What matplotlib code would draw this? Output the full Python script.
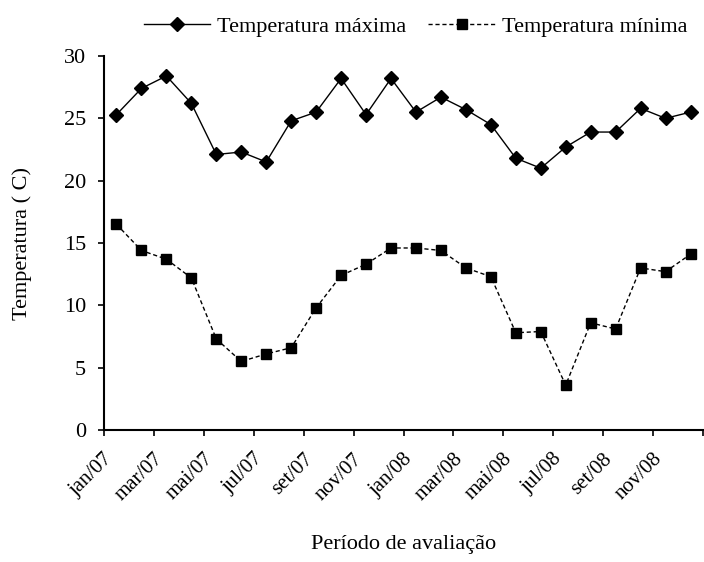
import matplotlib.pyplot as plt
import numpy as np

plt.rcParams['font.family'] = ['Liberation Serif', 'DejaVu Serif']

meses = ['jan/07', 'fev/07', 'mar/07', 'abr/07', 'mai/07', 'jun/07',
         'jul/07', 'ago/07', 'set/07', 'out/07', 'nov/07', 'dez/07',
         'jan/08', 'fev/08', 'mar/08', 'abr/08', 'mai/08', 'jun/08',
         'jul/08', 'ago/08', 'set/08', 'out/08', 'nov/08', 'dez/08']
t_max = [25.3, 27.4, 28.4, 26.2, 22.1, 22.3, 21.5, 24.8, 25.5, 28.2, 25.3, 28.2,
         25.5, 26.7, 25.7, 24.5, 21.8, 21.0, 22.7, 23.9, 23.9, 25.8, 25.0, 25.5]
t_min = [16.5, 14.4, 13.7, 12.2, 7.3, 5.5, 6.1, 6.6, 9.8, 12.4, 13.3, 14.6,
         14.6, 14.4, 13.0, 12.3, 7.8, 7.9, 3.6, 8.6, 8.1, 13.0, 12.7, 14.1]

x = np.arange(len(meses))

fig = plt.figure(figsize=(7.04, 5.62), dpi=100)
ax = fig.add_axes([104/704, 1 - 430/562, 599/704, 374/562])

ax.plot(x, t_max, color='black', lw=1.0, marker='D', markersize=7,
        label='Temperatura máxima')
ax.plot(x, t_min, color='black', lw=1.0, ls=(0, (3, 2)), marker='s', markersize=7,
        label='Temperatura mínima')

ax.set_xlim(-0.5, len(meses) - 0.5)
ax.set_ylim(0, 30)
ax.set_yticks(np.arange(0, 31, 5))

# ticks between pairs of months, labels every other month
ax.set_xticks(np.arange(-0.5, len(meses), 2))
ax.set_xticklabels([])
ax.set_xticks(x[::2] - 0.25, minor=True)
ax.set_xticklabels(meses[::2], minor=True, rotation=45, ha='right',
                   va='center', rotation_mode='anchor')
ax.tick_params(axis='x', which='minor', length=0, pad=19, labelsize=15)
ax.tick_params(axis='both', which='major', direction='out', length=4,
               width=1.2, labelsize=16)
ax.tick_params(axis='y', pad=9)

for s in ['top', 'right']:
    ax.spines[s].set_visible(False)
for s in ['left', 'bottom']:
    ax.spines[s].set_linewidth(1.5)

ax.set_xlabel('Período de avaliação', fontsize=16, va='center')
ax.xaxis.set_label_coords(0.5, -(545 - 430) / 374)
ax.set_ylabel('Temperatura ( C)', fontsize=16, va='center')
ax.yaxis.set_label_coords(-(104 - 22) / 599, 0.5)

ax.legend(loc='center', bbox_to_anchor=(0.52, 1 + (56 - 27) / 374), ncol=2,
          frameon=False, fontsize=16, handlelength=3.0, columnspacing=1.0,
          handletextpad=0.3, borderaxespad=0)

fig.savefig('out.png', dpi=100)
